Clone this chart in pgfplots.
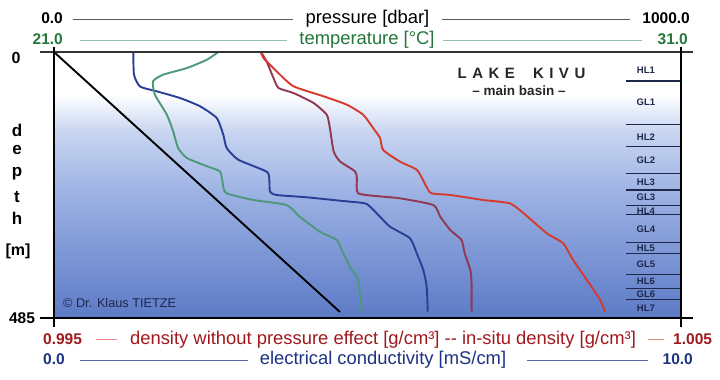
\documentclass[border=0pt]{standalone}
\usepackage{pgfplots}
\usepackage{pgfplotstable}
\pgfplotsset{compat=1.18}
\usepackage{fontspec}
\setmainfont{Liberation Sans}

\definecolor{condblue}{RGB}{42,62,150}
\definecolor{tempgreen}{RGB}{78,152,122}
\definecolor{densdark}{RGB}{145,55,80}
\definecolor{densred}{RGB}{214,58,44}
\definecolor{txtred}{RGB}{160,25,30}
\definecolor{txtgreen}{RGB}{36,118,58}
\definecolor{txtblue}{RGB}{28,50,130}
\definecolor{bgbot}{RGB}{92,122,198}
\definecolor{bgmid}{RGB}{152,174,226}
\definecolor{bglight}{RGB}{200,213,241}
\definecolor{layercol}{RGB}{30,40,75}

\pgfdeclareverticalshading{lake}{100bp}{color(0bp)=(bgbot); color(25bp)=(bgbot); color(47bp)=(bgmid); color(60bp)=(bglight); color(67bp)=(white); color(75bp)=(white); color(100bp)=(white)}

% depth [m], electrical conductivity [mS/cm]
\pgfplotstableread{
d c
0 1.265
41.4 1.276
62.9 1.372
71.7 1.638
83.9 2.010
99.0 2.329
120.3 2.595
150.8 2.700
175.0 2.754
196.4 2.939
218.2 3.392
233.4 3.434
254.7 3.445
260.7 3.552
264.9 4.030
271.1 4.561
272.9 4.721
277.1 4.987
300.3 5.199
318.5 5.359
339.7 5.678
367.0 5.785
397.5 5.890
427.9 5.944
473.5 5.960
}\cond

% depth [m], temperature [C]
\pgfplotstableread{
d t
0 23.62
14.0 23.44
29.2 23.12
41.4 22.74
53.4 22.58
77.9 22.61
114.3 22.80
144.6 22.90
175.0 22.98
193.3 23.12
208.4 23.44
218.2 23.65
245.6 23.70
257.6 23.75
269.9 24.18
279.0 24.71
300.3 24.92
327.6 25.24
342.8 25.51
361.0 25.59
391.5 25.72
415.7 25.85
473.5 25.91
}\temp

% depth [m], density without pressure effect [g/cm3]
\pgfplotstableread{
d r
0 0.99830
17.0 0.99839
47.4 0.99850
65.6 0.99858
74.8 0.99882
93.0 0.99914
114.3 0.99935
138.6 0.99940
181.1 0.99946
199.3 0.99956
217.5 0.99980
229.7 0.99983
257.6 0.99985
263.8 1.00025
266.8 1.00052
279.0 1.00105
300.3 1.00116
324.5 1.00132
342.8 1.00150
367.0 1.00155
397.5 1.00164
421.7 1.00166
473.5 1.00166
}\densnp

% depth [m], in-situ density [g/cm3]
\pgfplotstableread{
d r
0 0.99830
10.9 0.99834
35.2 0.99855
62.5 0.99882
80.8 0.99930
96.1 0.99967
114.3 0.99993
138.6 1.00009
156.8 1.00020
178.7 1.00025
200.0 1.00052
215.2 1.00079
245.6 1.00094
257.6 1.00102
260.7 1.00132
269.9 1.00185
275.9 1.00227
294.1 1.00249
330.6 1.00286
348.8 1.00312
379.3 1.00328
415.7 1.00350
452.2 1.00371
473.5 1.00379
}\densis

% depth [m], pressure [dbar]
\pgfplotstableread{
d p
0 0
474 456
}\press

\pgfplotsset{lk/.style={scale only axis, width=627pt, height=266pt,
  at={(54pt,62pt)}, anchor=south west, ymin=0, ymax=485, y dir=reverse,
  xtick=\empty, ytick=\empty, axis line style={draw=none}}}

\newcommand{\lay}[2]{\node[font=\fontsize{9.5}{10}\selectfont\bfseries, text=layercol, inner sep=0pt] at (axis cs:9.44,#2) {#1};}

\begin{document}
\begin{tikzpicture}
\useasboundingbox (0pt,0pt) rectangle (720pt,380pt);

\begin{axis}[lk, xmin=0, xmax=10, axis background/.style={shading=lake}]
\addplot[condblue, line width=1.9pt, smooth, tension=0.35] table[x=c, y=d] {\cond};
\pgfplotsinvokeforeach{52.9,132.5,171.9,221,251.6,280,297,347,367,406.5,431,452}{
  \draw[layercol, line width=1.1pt] (axis cs:9.123,#1) -- (axis cs:10,#1);
}
\lay{HL1}{32.8}
\lay{GL1}{92.4}
\lay{HL2}{154.4}
\lay{GL2}{196.9}
\lay{HL3}{237.6}
\lay{GL3}{264.9}
\lay{HL4}{289.9}
\lay{GL4}{323.3}
\lay{HL5}{357.9}
\lay{GL5}{387.1}
\lay{HL6}{418.8}
\lay{GL6}{441.8}
\lay{HL7}{467.3}
\end{axis}

\begin{axis}[lk, xmin=21, xmax=31]
\addplot[tempgreen, line width=1.9pt, smooth, tension=0.35] table[x=t, y=d] {\temp};
\end{axis}

\begin{axis}[lk, xmin=0.995, xmax=1.005]
\addplot[densdark, line width=1.9pt, smooth, tension=0.35] table[x=r, y=d] {\densnp};
\addplot[densred, line width=1.9pt, smooth, tension=0.35] table[x=r, y=d] {\densis};
\end{axis}

\begin{axis}[lk, xmin=0, xmax=1000]
\addplot[black, line width=1.9pt] table[x=p, y=d] {\press};
\end{axis}

% frame
\draw[black!80, line width=1.6pt] (40pt,328pt) -- (693pt,328pt);
\draw[black, line width=1.8pt] (40pt,62pt) -- (693pt,62pt);
\draw[black, line width=1.4pt] (54pt,333pt) -- (54pt,53pt);
\draw[black, line width=1.4pt] (681pt,333pt) -- (681pt,53pt);

% top header
\node[anchor=base east, inner sep=0pt, font=\fontsize{15.5}{16}\selectfont\bfseries] at (63pt,356pt) {0.0};
\draw[black!65, line width=0.9pt] (73pt,361pt) -- (293pt,361pt);
\node[anchor=base, inner sep=0pt, font=\fontsize{18.4}{20}\selectfont] at (367.5pt,356pt) {pressure [dbar]};
\draw[black!65, line width=0.9pt] (442pt,361pt) -- (630pt,361pt);
\node[anchor=base east, inner sep=0pt, font=\fontsize{15.5}{16}\selectfont\bfseries] at (690pt,356pt) {1000.0};

\node[anchor=base east, inner sep=0pt, font=\fontsize{15.5}{16}\selectfont\bfseries, text=txtgreen] at (63pt,335.5pt) {21.0};
\draw[tempgreen!60, line width=0.9pt] (80pt,340pt) -- (287pt,340pt);
\node[anchor=base, inner sep=0pt, font=\fontsize{18.4}{20}\selectfont, text=txtgreen] at (367pt,335.5pt) {temperature [°C]};
\draw[tempgreen!60, line width=0.9pt] (443pt,340pt) -- (642pt,340pt);
\node[anchor=base east, inner sep=0pt, font=\fontsize{15.5}{16}\selectfont\bfseries, text=txtgreen] at (688pt,335.5pt) {31.0};

% bottom header
\node[anchor=base west, inner sep=0pt, font=\fontsize{15.5}{16}\selectfont\bfseries, text=txtred] at (43pt,35pt) {0.995};
\draw[densred!60, line width=0.9pt] (96pt,41pt) -- (117pt,41pt);
\node[anchor=base, inner sep=0pt, font=\fontsize{18.4}{20}\selectfont, text=txtred] at (383pt,35pt) {density without pressure effect [g/cm³] -\kern0pt- in-situ density [g/cm³]};
\draw[densred!60, line width=0.9pt] (648pt,41pt) -- (664pt,41pt);
\node[anchor=base west, inner sep=0pt, font=\fontsize{15.5}{16}\selectfont\bfseries, text=txtred] at (673pt,35pt) {1.005};

\node[anchor=base west, inner sep=0pt, font=\fontsize{15.5}{16}\selectfont\bfseries, text=txtblue] at (43pt,15pt) {0.0};
\draw[condblue!80, line width=0.9pt] (80pt,20pt) -- (248pt,20pt);
\node[anchor=base, inner sep=0pt, font=\fontsize{18.4}{20}\selectfont, text=txtblue] at (383pt,15pt) {electrical conductivity [mS/cm]};
\draw[condblue!80, line width=0.9pt] (527pt,20pt) -- (648pt,20pt);
\node[anchor=base east, inner sep=0pt, font=\fontsize{15.5}{16}\selectfont\bfseries, text=txtblue] at (693pt,15pt) {10.0};

% left labels
\node[inner sep=0pt, font=\fontsize{16}{16}\selectfont\bfseries] at (16pt,322.5pt) {0};
\node[inner sep=0pt, font=\fontsize{15.5}{16}\selectfont\bfseries] at (22pt,61.5pt) {485};
\node[anchor=base, inner sep=0pt, font=\fontsize{17}{17}\selectfont\bfseries] at (17pt,243pt) {d};
\node[anchor=base, inner sep=0pt, font=\fontsize{17}{17}\selectfont\bfseries] at (17pt,225pt) {e};
\node[anchor=base, inner sep=0pt, font=\fontsize{17}{17}\selectfont\bfseries] at (17pt,203pt) {p};
\node[anchor=base, inner sep=0pt, font=\fontsize{17}{17}\selectfont\bfseries] at (17pt,177pt) {t};
\node[anchor=base, inner sep=0pt, font=\fontsize{17}{17}\selectfont\bfseries] at (17pt,155pt) {h};
\node[anchor=base, inner sep=0pt, font=\fontsize{16}{17}\selectfont\bfseries] at (18pt,124pt) {[m]};

% title
\node[anchor=base, inner sep=0pt, font=\fontsize{15}{15}\selectfont\bfseries, text=black!85] at (521.5pt,301pt) {L\hspace{5.5pt}A\hspace{5.5pt}K\hspace{5.5pt}E\hspace{18pt}K\hspace{5.5pt}I\hspace{5.5pt}V\hspace{5.5pt}U};
\node[anchor=base, inner sep=0pt, font=\fontsize{13.5}{14}\selectfont\bfseries, text=black!85] at (519pt,284pt) {– main basin –};

% copyright
\node[anchor=base west, inner sep=0pt, font=\fontsize{12.7}{13}\selectfont, text=layercol] at (63pt,72pt) {© Dr. Klaus TIETZE};
\end{tikzpicture}
\end{document}
